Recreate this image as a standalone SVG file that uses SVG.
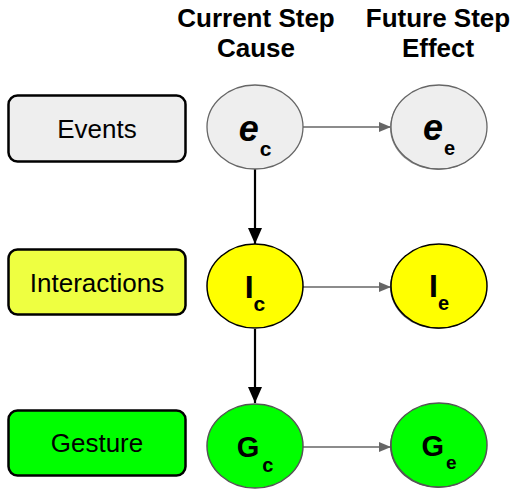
<svg xmlns="http://www.w3.org/2000/svg" width="514" height="491" viewBox="0 0 514 491">
<style>
.hdr{font-family:"Liberation Sans",Arial,sans-serif;font-weight:bold;font-size:26px;fill:#000;text-anchor:middle}
.lbl{font-family:"Liberation Sans",Arial,sans-serif;font-size:26px;fill:#000;text-anchor:middle}
.sym{font-family:"Liberation Sans",Arial,sans-serif;font-weight:bold;fill:#000;text-anchor:middle}
.box{stroke:#000;stroke-width:2.5}
.hline{stroke:#666;stroke-width:1.3;fill:none}
.vline{stroke:#000;stroke-width:2.2;fill:none}
</style>
<defs>
<marker id="ag" markerWidth="12" markerHeight="10" refX="12" refY="5" orient="auto" markerUnits="userSpaceOnUse"><path d="M0,0 L12,5 L0,10 Z" fill="#666"/></marker>
<marker id="ab" markerWidth="16" markerHeight="14" refX="16" refY="7" orient="auto" markerUnits="userSpaceOnUse"><path d="M0,0 L16,7 L0,14 Z" fill="#000"/></marker>
</defs>
<rect width="514" height="491" fill="#fff"/>
<g id="headers">
<text class="hdr" x="256" y="27">Current Step</text>
<text class="hdr" x="256" y="57">Cause</text>
<text class="hdr" x="438" y="27">Future Step</text>
<text class="hdr" x="438" y="57">Effect</text>
</g>
<g id="connectors">
<line class="hline" x1="303" y1="127" x2="391" y2="127" marker-end="url(#ag)"/>
<line class="hline" x1="303" y1="287" x2="391" y2="287" marker-end="url(#ag)"/>
<line class="hline" x1="303" y1="447" x2="391" y2="447" marker-end="url(#ag)"/>
<line class="vline" x1="255" y1="169" x2="255" y2="244" marker-end="url(#ab)"/>
<line class="vline" x1="255" y1="329" x2="255" y2="403" marker-end="url(#ab)"/>
</g>
<g id="events">
<rect class="box" x="8.5" y="95.5" width="177" height="66" rx="9" fill="#eeeeee"/>
<text class="lbl" x="97" y="138">Events</text>
</g>
<g id="interactions">
<rect class="box" x="8.5" y="249.5" width="177" height="65" rx="9" fill="#eeff41"/>
<text class="lbl" x="97" y="292">Interactions</text>
</g>
<g id="gesture">
<rect class="box" x="8.5" y="410.5" width="177" height="65" rx="9" fill="#00ff00"/>
<text class="lbl" x="97" y="452">Gesture</text>
</g>
<g id="e_c">
<ellipse cx="255" cy="127" rx="48" ry="42" fill="#eeeeee" stroke="#666" stroke-width="1.3"/>
<text class="sym" x="255" y="141" font-size="36" font-style="italic">e<tspan font-size="21" font-style="normal" dx="1" dy="15">c</tspan></text>
</g>
<g id="e_e">
<ellipse cx="438" cy="128" rx="48" ry="42" fill="#888"/>
<ellipse cx="439" cy="127" rx="48" ry="42" fill="#eeeeee" stroke="#666" stroke-width="1.3"/>
<text class="sym" x="439" y="140" font-size="36" font-style="italic">e<tspan font-size="20" font-style="normal" dx="1" dy="15">e</tspan></text>
</g>
<g id="i_c">
<ellipse cx="255" cy="286" rx="48" ry="42" fill="#ffff00" stroke="#000" stroke-width="1.5"/>
<text class="sym" x="255" y="298" font-size="32">I<tspan font-size="21" dy="13">c</tspan></text>
</g>
<g id="i_e">
<ellipse cx="438" cy="287" rx="48" ry="42" fill="#555"/>
<ellipse cx="439" cy="286" rx="48" ry="42" fill="#ffff00" stroke="#000" stroke-width="1.5"/>
<text class="sym" x="439" y="297" font-size="32">I<tspan font-size="20" dy="13">e</tspan></text>
</g>
<g id="g_c">
<ellipse cx="255" cy="446" rx="48" ry="42" fill="#00ff00" stroke="#555" stroke-width="1.5"/>
<text class="sym" x="255" y="457" font-size="29">G<tspan font-size="20" dx="3" dy="15">c</tspan></text>
</g>
<g id="g_e">
<ellipse cx="438" cy="446" rx="48" ry="42" fill="#555"/>
<ellipse cx="439" cy="445" rx="48" ry="42" fill="#00ff00" stroke="#555" stroke-width="1.5"/>
<text class="sym" x="439" y="456" font-size="29">G<tspan font-size="19" dx="2" dy="13">e</tspan></text>
</g>
</svg>
